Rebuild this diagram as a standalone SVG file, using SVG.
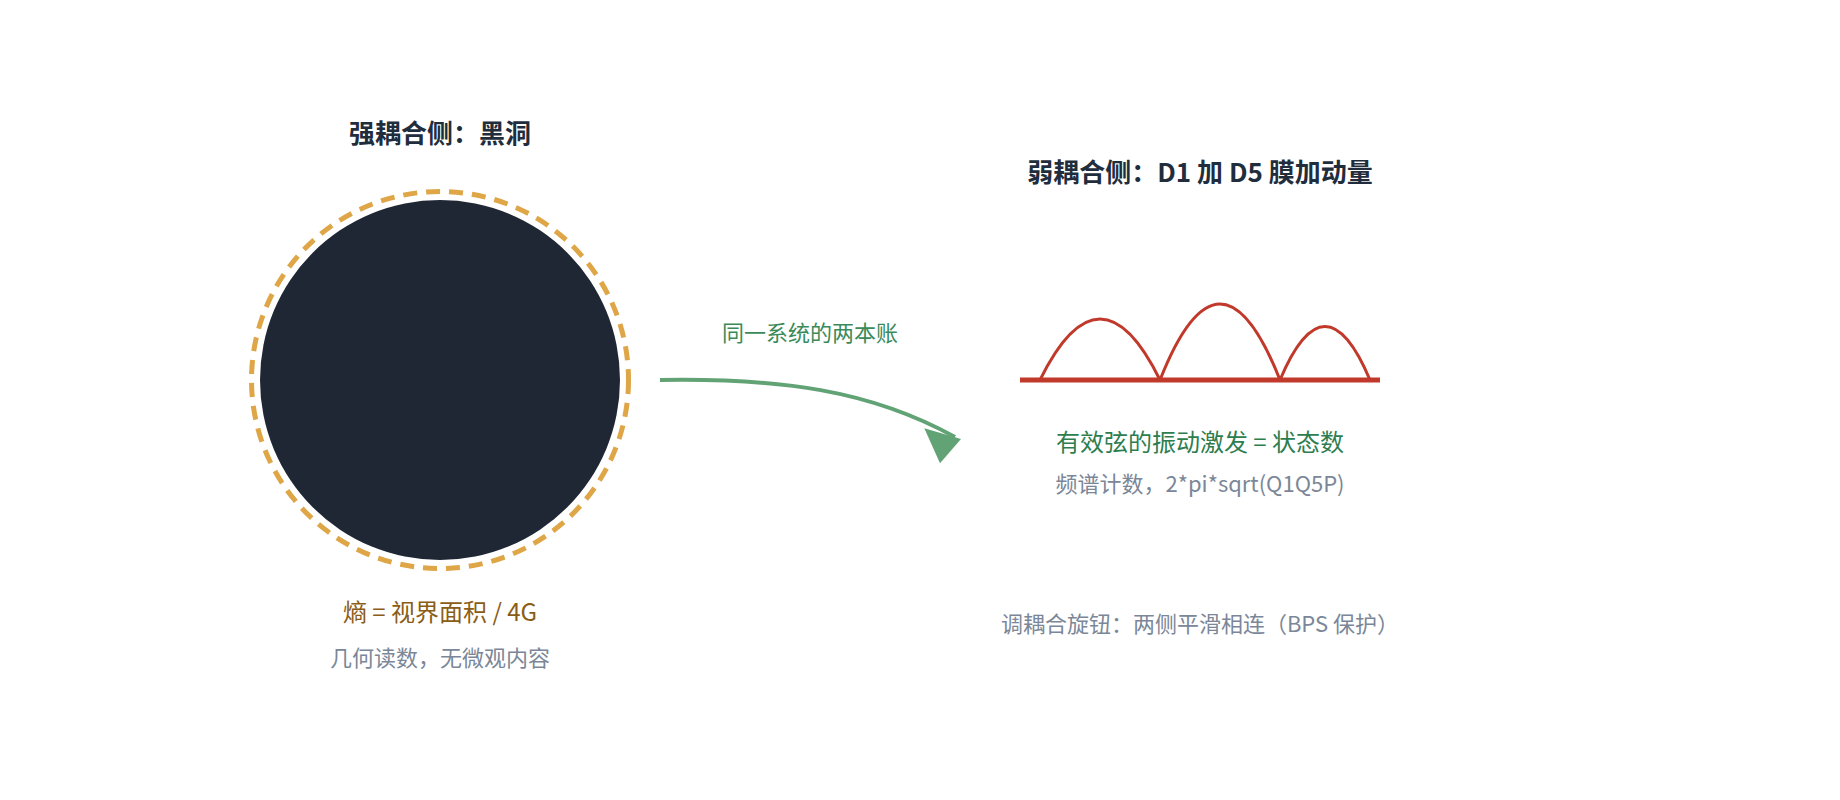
<svg xmlns="http://www.w3.org/2000/svg" width="1840" height="800" viewBox="0 0 1840 800">
<defs>
<style>
text{font-family:"Noto Sans CJK SC","Noto Sans",sans-serif;text-anchor:middle}
.title{font-size:26px;font-weight:700;fill:#1f2d3d}
.main{font-size:24px}
.sub{font-size:22px;fill:#7b8798}
.wave{fill:none;stroke:#c0392b;stroke-width:3}
</style>
<marker id="ah" markerUnits="userSpaceOnUse" orient="0" refX="0" refY="0" markerWidth="80" markerHeight="80" overflow="visible">
<path d="M6,2 L-30.7,-8.7 L-15,26.3 Z" fill="#62a375"/>
</marker>
</defs>
<rect width="1840" height="800" fill="#ffffff"/>
<g id="blackhole">
<text class="title" x="440" y="143">强耦合侧：黑洞</text>
<circle cx="440" cy="380" r="188.5" fill="none" stroke="#dea647" stroke-width="5" stroke-dasharray="14 9"/>
<circle cx="440" cy="380" r="180" fill="#1e2733"/>
<text class="main" x="440" y="621" fill="#8a5d17" xml:space="preserve">熵 = 视界面积 / 4G</text>
<text class="sub" x="440" y="666">几何读数，无微观内容</text>
</g>
<g id="branes">
<text class="title" x="1200" y="182">弱耦合侧：D1 加 D5 膜加动量</text>
<line x1="1020" y1="380" x2="1380" y2="380" stroke="#c0392b" stroke-width="5"/>
<path class="wave" d="M1040,380 Q1100,258 1160,380"/>
<path class="wave" d="M1160,380 Q1220,228 1280,380"/>
<path class="wave" d="M1280,380 Q1325,273 1370,380"/>
<text class="main" x="1200" y="451" fill="#2e7d4f">有效弦的振动激发 = 状态数</text>
<text class="sub" x="1200" y="492">频谱计数，2*pi*sqrt(Q1Q5P)</text>
</g>
<g id="knob">
<text class="sub" x="1200" y="632">调耦合旋钮：两侧平滑相连（BPS 保护）</text>
</g>
<g id="connectors">
<path d="M660,380 C780,378 870,390 955,437" fill="none" stroke="#62a375" stroke-width="4" marker-end="url(#ah)"/>
<text x="810" y="341" font-size="22" fill="#3a8a5a">同一系统的两本账</text>
</g>
</svg>
